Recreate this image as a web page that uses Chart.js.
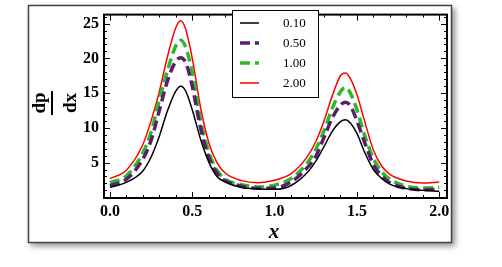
<!DOCTYPE html>
<html>
<head>
<meta charset="utf-8">
<script src="https://cdn.jsdelivr.net/npm/chart.js@4/dist/chart.umd.min.js"></script>
<style>
html,body{margin:0;padding:0;background:#fff;}
canvas{display:block;}
</style>
</head>
<body>
<canvas id="c" width="502" height="267"></canvas>
<script>
// ---- data ----
const xValues = [0, 0.1, 0.2, 0.25, 0.3, 0.35, 0.4, 0.43, 0.46, 0.5, 0.55, 0.6, 0.65, 0.7, 0.8, 0.9,
                 1.0, 1.1, 1.2, 1.25, 1.3, 1.35, 1.4, 1.43, 1.46, 1.5, 1.55, 1.6, 1.65, 1.7, 1.8, 1.9, 2.0];
const series010 = [1.43, 2.15, 3.8, 5.8, 8.8, 12.5, 15.3, 16.0, 15.3, 12.6, 8.4, 5.1, 3.0, 2.2, 1.4, 1.2,
                   1.15, 1.7, 3.6, 5.2, 7.3, 9.5, 10.9, 11.15, 10.7, 9.2, 6.3, 4.0, 2.7, 1.9, 1.25, 1.0, 0.88];
const series050 = [1.67, 2.6, 5.5, 8.2, 12.5, 16.8, 19.6, 20.1, 19.4, 16.0, 10.0, 5.8, 3.5, 2.4, 1.6, 1.3,
                   1.35, 2.2, 4.3, 5.9, 8.6, 11.4, 13.3, 13.7, 13.2, 11.0, 7.7, 4.7, 3.1, 2.1, 1.3, 1.1, 1.15];
const series100 = [2.1, 3.1, 6.4, 9.4, 14.0, 18.3, 21.8, 22.6, 21.6, 18.0, 11.2, 6.5, 3.9, 2.6, 1.8, 1.5,
                   1.75, 2.7, 5.0, 6.9, 9.6, 12.8, 15.2, 15.8, 15.0, 12.6, 8.7, 5.6, 3.7, 2.6, 1.6, 1.35, 1.4];
const series200 = [2.7, 3.9, 7.6, 11.0, 15.2, 20.3, 24.4, 25.4, 24.2, 20.0, 13.0, 7.9, 5.0, 3.5, 2.4, 2.1,
                   2.45, 3.4, 5.9, 8.0, 11.0, 14.6, 17.5, 17.9, 17.1, 14.8, 10.7, 6.8, 4.5, 3.3, 2.35, 2.05, 2.2];
const seriesLabels = ['0.10', '0.50', '1.00', '2.00'];
const xTickValues = [0, 0.5, 1.0, 1.5, 2.0];
const xTickLabels = ['0.0', '0.5', '1.0', '1.5', '2.0'];
const yTickValues = [5, 10, 15, 20, 25];
const yTickLabels = ['5', '10', '15', '20', '25'];

const toPoints = s => xValues.map((x, i) => ({x: x, y: s[i]}));

const tickFont = {family: "'Liberation Serif','DejaVu Serif',serif", size: 16, weight: 'bold'};

const decor = {
  id: 'decor',
  beforeDraw(chart) {
    const ctx = chart.ctx;
    ctx.save();
    ctx.fillStyle = '#fff';
    ctx.fillRect(0, 0, chart.width, chart.height);
    ctx.shadowColor = 'rgba(0,0,0,0.45)';
    ctx.shadowBlur = 6;
    ctx.shadowOffsetX = 3;
    ctx.shadowOffsetY = 3;
    ctx.fillRect(28, 5, 424, 238);
    ctx.shadowColor = 'rgba(0,0,0,0)';
    ctx.strokeStyle = '#444';
    ctx.lineWidth = 1.5;
    ctx.strokeRect(28.5, 5.5, 423, 237);
    ctx.restore();
  },
  afterDraw(chart) {
    const ctx = chart.ctx;
    const a = chart.chartArea;
    const xs = chart.scales.x, ys = chart.scales.y;
    ctx.save();
    ctx.strokeStyle = '#000';
    ctx.lineWidth = 1;
    // inward ticks on all four sides
    for (let i = 0; i <= 20; i++) {
      const p = Math.round(xs.getPixelForValue(i / 10)) + 0.5;
      const len = (i % 5 === 0) ? 6 : 3;
      ctx.beginPath();
      ctx.moveTo(p, a.bottom); ctx.lineTo(p, a.bottom - len);
      ctx.moveTo(p, a.top); ctx.lineTo(p, a.top + len);
      ctx.stroke();
    }
    for (let i = 0; i <= 26; i++) {
      const p = Math.round(ys.getPixelForValue(i)) + 0.5;
      const len = (i % 5 === 0) ? 6 : 3;
      ctx.beginPath();
      ctx.moveTo(a.left, p); ctx.lineTo(a.left + len, p);
      ctx.moveTo(a.right, p); ctx.lineTo(a.right - len, p);
      ctx.stroke();
    }
    ctx.lineWidth = 2;
    ctx.strokeRect(a.left, a.top, a.right - a.left, a.bottom - a.top);

    // legend
    const lx = 232, ly = 10, lw = 86, lh = 87;
    ctx.fillStyle = '#fff';
    ctx.fillRect(lx, ly, lw, lh);
    ctx.lineWidth = 1;
    ctx.strokeStyle = '#000';
    ctx.strokeRect(lx + 0.5, ly + 0.5, lw, lh);
    ctx.font = "13px 'Liberation Serif','DejaVu Serif',serif";
    ctx.textBaseline = 'middle';
    ctx.textAlign = 'left';
    chart.data.datasets.forEach((ds, i) => {
      const y = ly + 13 + i * 20;
      ctx.save();
      ctx.strokeStyle = ds.borderColor;
      ctx.lineWidth = ds.borderWidth;
      ctx.setLineDash(ds.borderDash || []);
      ctx.beginPath();
      ctx.moveTo(lx + 8, y); ctx.lineTo(lx + 27, y);
      ctx.stroke();
      ctx.restore();
      ctx.fillStyle = '#000';
      ctx.fillText(ds.label, lx + 51, y + 1);
    });

    // x axis title
    ctx.fillStyle = '#000';
    ctx.font = "italic bold 21px 'Liberation Serif','DejaVu Serif',serif";
    ctx.textAlign = 'center';
    ctx.textBaseline = 'alphabetic';
    ctx.fillText('x', 274, 238);

    // y axis title: fraction dp/dx rotated
    ctx.save();
    ctx.translate(54, 103);
    ctx.rotate(-Math.PI / 2);
    ctx.font = "bold 19px 'Liberation Serif','DejaVu Serif',serif";
    ctx.textAlign = 'center';
    ctx.fillText('dp', 0, -9);
    ctx.fillText('dx', 0, 22);
    ctx.fillRect(-12, -3, 24, 2);
    ctx.restore();
    ctx.restore();
  }
};

new Chart(document.getElementById('c'), {
  type: 'line',
  data: {
    datasets: [
      {label: seriesLabels[0], data: toPoints(series010), borderColor: '#000000', borderWidth: 1.5},
      {label: seriesLabels[1], data: toPoints(series050), borderColor: '#5a1e6e', borderWidth: 3.5, borderDash: [10, 5]},
      {label: seriesLabels[2], data: toPoints(series100), borderColor: '#2eb82e', borderWidth: 3.5, borderDash: [10, 5]},
      {label: seriesLabels[3], data: toPoints(series200), borderColor: '#ff0000', borderWidth: 1.5}
    ].map(d => Object.assign(d, {pointRadius: 0, fill: false, cubicInterpolationMode: 'monotone'}))
  },
  options: {
    responsive: false,
    animation: false,
    devicePixelRatio: 1,
    layout: {padding: {left: 0, right: 55, top: 8, bottom: 0}},
    plugins: {legend: {display: false}, tooltip: {enabled: false}},
    scales: {
      x: {
        type: 'linear', min: -0.036, max: 2.047,
        grid: {display: false, drawTicks: false}, border: {display: false},
        afterBuildTicks: s => { s.ticks = xTickValues.map(v => ({value: v})); },
        afterFit: s => { s.height = 69; },
        ticks: {font: tickFont, color: '#000', padding: 4, maxRotation: 0, autoSkip: false,
                callback: (v) => xTickLabels[xTickValues.indexOf(v)]}
      },
      y: {
        type: 'linear', min: -0.1, max: 26.3,
        grid: {display: false, drawTicks: false}, border: {display: false},
        afterBuildTicks: s => { s.ticks = yTickValues.map(v => ({value: v})); },
        afterFit: s => { s.width = 104; },
        ticks: {font: tickFont, color: '#000', padding: 5, autoSkip: false,
                callback: (v) => yTickLabels[yTickValues.indexOf(v)]}
      }
    }
  },
  plugins: [decor]
});
</script>
</body>
</html>
